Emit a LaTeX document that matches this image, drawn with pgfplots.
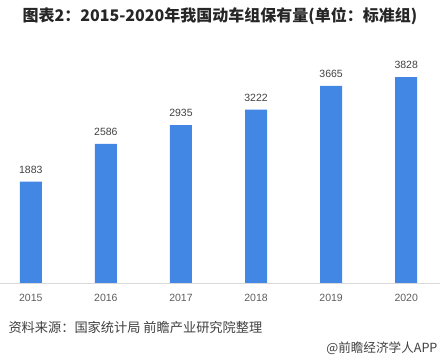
\documentclass[border=0pt]{standalone}
\usepackage{fontspec}
\setmainfont{Liberation Sans}
\newfontfamily\cjk{Noto Sans CJK SC}
\usepackage{pgfplots}
\pgfplotsset{compat=1.18}
\definecolor{barblue}{RGB}{66,135,228}
\definecolor{txtgray}{RGB}{64,64,64}
\definecolor{axgray}{RGB}{217,217,217}
\begin{document}
\begin{tikzpicture}
\path[use as bounding box] (0pt,0pt) rectangle (440pt,361pt);
\begin{axis}[
  at={(0pt,78pt)}, anchor=south west,
  scale only axis, width=440pt, height=242pt,
  xmin=-0.41, xmax=5.45, ymin=0, ymax=4500,
  axis y line=none,
  axis x line*=bottom,
  x axis line style={axgray, line width=0.8pt, -},
  xtick={0,1,2,3,4,5},
  xticklabels={2015,2016,2017,2018,2019,2020},
  xtick style={draw=none},
  xticklabel style={font=\fontsize{10.5}{12}\selectfont, text=txtgray!85, yshift=-3pt},
  ybar, bar width=22pt,
  nodes near coords,
  every node near coord/.append style={font=\fontsize{10.5}{12}\selectfont, text=txtgray, yshift=5pt},
  /pgf/number format/assume math mode=true,
  /pgf/number format/1000 sep={},
]
\addplot[fill=barblue, draw=none] coordinates {(0,1883) (1,2586) (2,2935) (3,3222) (4,3665) (5,3828)};
\end{axis}
\node[anchor=west, font=\cjk\bfseries\fontsize{16}{18}\selectfont, text=black!85] at (19pt,345pt) {图表2：2015-2020年我国动车组保有量(单位：标准组)};
\node[anchor=west, font=\cjk\fontsize{13.2}{15}\selectfont, text=txtgray] at (5pt,34pt) {资料来源：国家统计局 前瞻产业研究院整理};
\node[anchor=east, font=\cjk\fontsize{12.6}{14}\selectfont, text=txtgray] at (441pt,13pt) {@前瞻经济学人APP};
\end{tikzpicture}
\end{document}
